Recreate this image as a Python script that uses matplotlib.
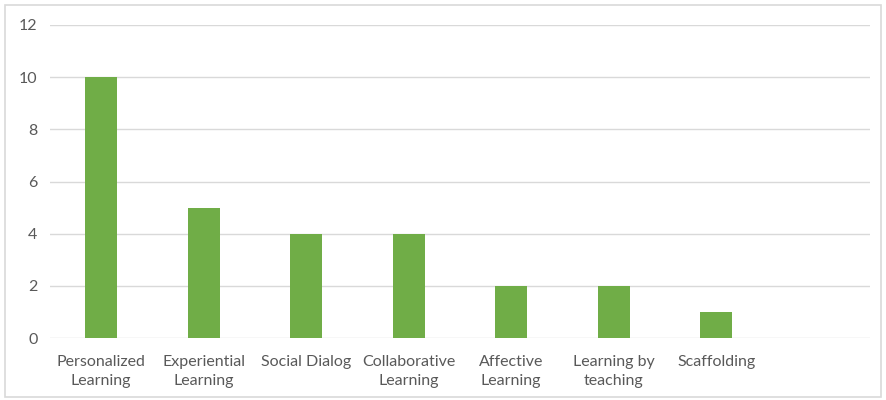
import matplotlib.pyplot as plt
import matplotlib.patches as patches
import numpy as np

categories = ["Personalized\nLearning", "Experiential\nLearning", "Social Dialog",
              "Collaborative\nLearning", "Affective\nLearning", "Learning by\nteaching",
              "Scaffolding", ""]
values = [10, 5, 4, 4, 2, 2, 1, 0]
yticks = [0, 2, 4, 6, 8, 10, 12]

plt.rcParams['font.family'] = ['Lato', 'DejaVu Sans']
text_color = '#595959'

fig = plt.figure(figsize=(8.86, 4), dpi=100)
ax = fig.add_axes([50/886, 62/400, 820/886, 313/400])

x = np.arange(len(categories))
ax.bar(x[:-1], values[:-1], width=0.31, color='#70AD47', zorder=3)

ax.set_xlim(-0.5, len(categories) - 0.5)
ax.set_ylim(0, 12)
ax.set_yticks(yticks)
ax.set_yticklabels([str(v) for v in yticks], color=text_color, fontsize=11.5)
ax.set_xticks(x)
ax.set_xticklabels(categories, color=text_color, fontsize=11.5, linespacing=1.45)
ax.tick_params(axis='x', length=0, pad=12)
ax.tick_params(axis='y', length=0, pad=9)
ax.grid(axis='y', color='#D9D9D9', linewidth=1, zorder=0)
for s in ax.spines.values():
    s.set_visible(False)

# outer frame
fig.patches.append(patches.Rectangle((5/886, 3/400), 876/886, 392/400,
                                     transform=fig.transFigure, fill=False,
                                     edgecolor='#D9D9D9', linewidth=1.2))

fig.savefig('out.png', dpi=100)
